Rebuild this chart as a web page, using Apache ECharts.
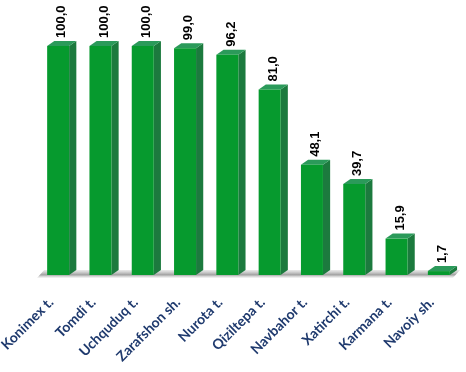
<!DOCTYPE html>
<html>
<head>
<meta charset="utf-8">
<script src="https://cdn.jsdelivr.net/npm/echarts@6/dist/echarts.min.js"></script>
<style>
  html, body { margin: 0; padding: 0; background: #fff; }
  #chart { width: 466px; height: 372px; }
</style>
</head>
<body>
<div id="chart"></div>
<script>
  // data
  var categories = ['Konimex t.', 'Tomdi t.', 'Uchquduq t.', 'Zarafshon sh.', 'Nurota t.',
    'Qiziltepa t.', 'Navbahor t.', 'Xatirchi t.', 'Karmana t.', 'Navoiy sh.'];
  var values = [100.0, 100.0, 100.0, 99.0, 96.2, 81.0, 48.1, 39.7, 15.9, 1.7];

  function fmt(v) {
    return v.toFixed(1).replace('.', ',');
  }

  function renderBar(params, api) {
    var idx = api.value(0);
    var val = api.value(1);
    var top = api.coord([idx, val]);
    var base = api.coord([idx, 0]);
    var band = api.size([1, 0])[0];
    var w = band * 0.52;
    var dx = band * 0.17;
    var dy = 5;
    var x0 = top[0] - w / 2;
    var x1 = top[0] + w / 2;
    var children = [];

    // floor under all bars, drawn once
    if (params.dataIndex === 0) {
      var cs = params.coordSys;
      var fy = base[1];
      children.push({
        type: 'polygon',
        shape: { points: [[cs.x, fy + 3], [cs.x + cs.width - dx, fy + 3], [cs.x + cs.width, fy - dy], [cs.x + dx, fy - dy]] },
        style: {
          fill: new echarts.graphic.LinearGradient(0, 0, 0, 1, [
            { offset: 0, color: 'rgba(200,200,200,0.4)' },
            { offset: 0.6, color: 'rgba(150,150,150,0.9)' },
            { offset: 1, color: 'rgba(220,220,220,0.3)' }
          ])
        },
        silent: true
      });
    }

    // side face
    children.push({
      type: 'polygon',
      shape: { points: [[x1, top[1]], [x1 + dx, top[1] - dy], [x1 + dx, base[1] - dy], [x1, base[1]]] },
      style: { fill: '#1c7a3e' }
    });
    // top face
    children.push({
      type: 'polygon',
      shape: { points: [[x0, top[1]], [x0 + dx, top[1] - dy], [x1 + dx, top[1] - dy], [x1, top[1]]] },
      style: { fill: '#2b9a5a' }
    });
    // front face
    children.push({
      type: 'rect',
      shape: { x: x0, y: top[1], width: w, height: base[1] - top[1] },
      style: { fill: '#069a2e' }
    });
    // value label, rotated
    children.push({
      type: 'text',
      x: top[0] + dx / 2,
      y: top[1] - dy - 3,
      rotation: Math.PI / 2,
      style: {
        text: fmt(val),
        x: 0, y: 0,
        align: 'left',
        verticalAlign: 'middle',
        fill: '#000',
        font: 'bold 13px "Liberation Sans", Arial, sans-serif'
      }
    });
    return { type: 'group', children: children };
  }

  var option = {
    animation: false,
    grid: { left: 37, right: 6, top: 46, bottom: 97, containLabel: false, outerBoundsMode: 'none' },
    xAxis: {
      type: 'category',
      data: categories,
      axisLine: { show: false },
      axisTick: { show: false },
      axisLabel: {
        rotate: 45,
        interval: 0,
        margin: 18,
        padding: [0, 10, 0, 0],
        color: '#1f3a6e',
        fontWeight: 'bold',
        fontSize: 14,
        fontFamily: 'Lato, "Liberation Sans", sans-serif'
      }
    },
    yAxis: {
      type: 'value',
      min: 0,
      max: 100,
      show: false
    },
    series: [{
      type: 'custom',
      renderItem: renderBar,
      encode: { x: 0, y: 1 },
      data: values.map(function(v, i) { return [i, v]; })
    }]
  };

  echarts.init(document.getElementById('chart')).setOption(option);
</script>
</body>
</html>
